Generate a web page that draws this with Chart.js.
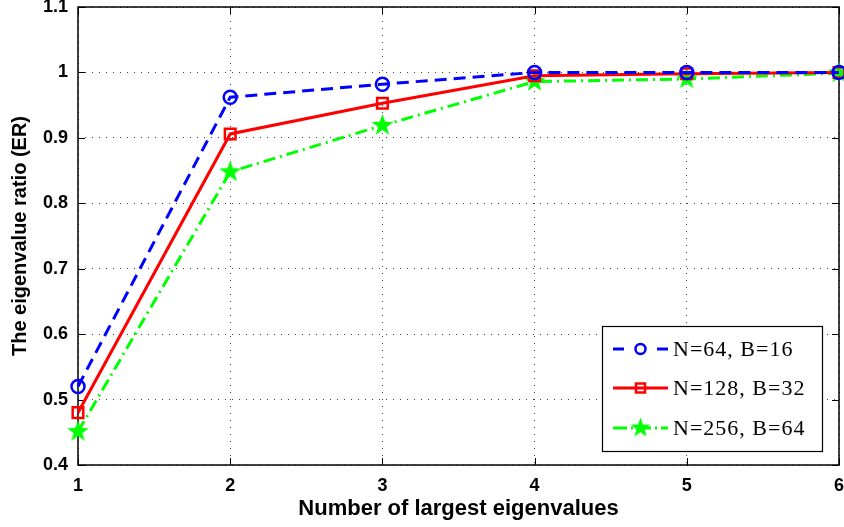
<!DOCTYPE html>
<html>
<head>
<meta charset="utf-8">
<script src="https://cdn.jsdelivr.net/npm/chart.js@4"></script>
<style>
  html, body { margin: 0; padding: 0; background: #fff; }
  #wrap { width: 844px; height: 527px; }
</style>
</head>
<body>
<div id="wrap"><canvas id="er-chart" width="844" height="527"></canvas></div>
<script>
// number of largest eigenvalues kept
const eigenCounts = [1, 2, 3, 4, 5, 6];

// eigenvalue ratio per setting
const erN64 = [0.520, 0.962, 0.982, 1.000, 1.000, 1.000];
const erN128 = [0.480, 0.906, 0.953, 0.995, 0.998, 1.000];
const erN256 = [0.451, 0.848, 0.919, 0.986, 0.990, 0.999];

const seriesLabels = ["N=64, B=16", "N=128, B=32", "N=256, B=64"];

const xTitle = "Number of largest eigenvalues";
const yTitle = "The eigenvalue ratio (ER)";

// filled five-point star, Chart.js "star" is only an asterisk
function makeStar(outer) {
    const c = document.createElement("canvas");
    const s = Math.ceil(outer * 2 + 2);
    c.width = s; c.height = s;
    const g = c.getContext("2d");
    const inner = outer * 0.4;
    g.beginPath();
    for (let i = 0; i < 10; i++) {
        const r = i % 2 === 0 ? outer : inner;
        const a = -Math.PI / 2 + i * Math.PI / 5;
        const px = s / 2 + r * Math.cos(a);
        const py = s / 2 + r * Math.sin(a);
        if (i === 0) g.moveTo(px, py); else g.lineTo(px, py);
    }
    g.closePath();
    g.fillStyle = "#00ff00";
    g.fill();
    return c;
}
const starImg = makeStar(11.5);
const starSmall = makeStar(10.5);

const toPoints = arr => arr.map((v, i) => ({ x: eigenCounts[i], y: v }));

// MATLAB-like frame: box, inward ticks, legend inside the axes
const frame = {
    id: "frame",
    beforeDatasetsDraw(chart) {
        const ctx = chart.ctx;
        const a = chart.chartArea;
        const xs = chart.scales.x, ys = chart.scales.y;
        ctx.save();
        ctx.strokeStyle = "#000";
        ctx.lineWidth = 1;
        ctx.setLineDash([]);
        ctx.beginPath();
        xs.ticks.forEach(t => {
            const px = Math.round(xs.getPixelForValue(t.value)) + 0.5;
            ctx.moveTo(px, a.bottom); ctx.lineTo(px, a.bottom - 7);
            ctx.moveTo(px, a.top); ctx.lineTo(px, a.top + 7);
        });
        ys.ticks.forEach(t => {
            const py = Math.round(ys.getPixelForValue(t.value)) + 0.5;
            ctx.moveTo(a.left, py); ctx.lineTo(a.left + 7, py);
            ctx.moveTo(a.right, py); ctx.lineTo(a.right - 7, py);
        });
        ctx.stroke();
        ctx.lineWidth = 1.5;
        ctx.strokeRect(a.left, a.top, a.right - a.left, a.bottom - a.top);
        ctx.restore();
    },
    afterDraw(chart) {
        const ctx = chart.ctx;
        ctx.save();
        // legend
        const lx = 602, ly = 326, lw = 220, lh = 125;
        ctx.fillStyle = "#fff";
        ctx.fillRect(lx, ly, lw, lh);
        ctx.strokeStyle = "#000";
        ctx.lineWidth = 1.2;
        ctx.strokeRect(lx + 0.5, ly + 0.5, lw, lh);
        const rows = [349, 388, 428];
        chart.data.datasets.forEach((ds, i) => {
            const y = rows[i];
            ctx.strokeStyle = ds.borderColor;
            ctx.lineWidth = 3;
            ctx.setLineDash(i === 2 ? [14, 4, 2, 4] : (ds.borderDash || []));
            ctx.beginPath();
            if (i === 0) {
                ctx.moveTo(613, y); ctx.lineTo(624, y);
                ctx.moveTo(657, y); ctx.lineTo(668, y);
            } else {
                ctx.moveTo(613, y); ctx.lineTo(668, y);
            }
            ctx.stroke();
            ctx.setLineDash([]);
            ctx.lineWidth = 2.5;
            if (i === 0) {
                ctx.beginPath();
                ctx.arc(640.5, y, 5, 0, Math.PI * 2);
                ctx.stroke();
            } else if (i === 1) {
                ctx.strokeRect(636, y - 4.5, 9, 9);
            } else {
                ctx.drawImage(starSmall, 640.5 - starSmall.width / 2, y - starSmall.height / 2);
            }
            ctx.fillStyle = "#000";
            ctx.font = "22px 'Liberation Serif'";
            ctx.letterSpacing = "1px";
            ctx.textBaseline = "middle";
            ctx.textAlign = "left";
            ctx.fillText(ds.label, 673, y + 1);
            ctx.letterSpacing = "0px";
        });
        ctx.restore();
    }
};

new Chart(document.getElementById("er-chart"), {
    type: "line",
    data: {
        datasets: [
            {
                label: seriesLabels[0],
                data: toPoints(erN64),
                borderColor: "#0000ff",
                borderWidth: 3,
                borderDash: [12, 7],
                pointStyle: "circle",
                pointRadius: 6.5,
                pointBorderWidth: 2.5,
                pointBorderColor: "#0000ff",
                pointBackgroundColor: "rgba(0,0,0,0)",
                tension: 0,
                clip: false
            },
            {
                label: seriesLabels[1],
                data: toPoints(erN128),
                borderColor: "#ff0000",
                borderWidth: 3,
                pointStyle: "rect",
                pointRadius: 7.5,
                pointBorderWidth: 2.5,
                pointBorderColor: "#ff0000",
                pointBackgroundColor: "rgba(0,0,0,0)",
                tension: 0,
                clip: false
            },
            {
                label: seriesLabels[2],
                data: toPoints(erN256),
                borderColor: "#00ff00",
                borderWidth: 3,
                borderDash: [12, 5, 2, 5],
                pointStyle: starImg,
                pointRadius: 11,
                tension: 0,
                clip: false
            }
        ]
    },
    options: {
        responsive: false,
        animation: false,
        devicePixelRatio: 1,
        layout: { autoPadding: false, padding: { top: 7, right: 5, left: 0, bottom: 0 } },
        plugins: {
            legend: { display: false },
            tooltip: { enabled: false }
        },
        scales: {
            x: {
                type: "linear",
                min: 1,
                max: 6,
                afterFit: s => { s.height = 62; s.paddingLeft = 0; s.paddingRight = 0; },
                ticks: {
                    stepSize: 1,
                    padding: 10,
                    color: "#000",
                    font: { family: "'Liberation Sans'", size: 18, weight: "bold" }
                },
                grid: { color: "#444", lineWidth: 1, drawTicks: false },
                border: { display: false, dash: [1, 6] },
                title: {
                    display: true,
                    text: xTitle,
                    color: "#000",
                    font: { family: "'Liberation Sans'", size: 22, weight: "bold" },
                    padding: { top: 0, bottom: 5 }
                }
            },
            y: {
                min: 0.4,
                max: 1.1,
                afterFit: s => { s.width = 78; s.paddingTop = 0; s.paddingBottom = 0; },
                ticks: {
                    stepSize: 0.1,
                    padding: 10,
                    color: "#000",
                    font: { family: "'Liberation Sans'", size: 18, weight: "bold" },
                    callback: v => String(+v.toFixed(1))
                },
                grid: { color: "#444", lineWidth: 1, drawTicks: false },
                border: { display: false, dash: [1, 6] },
                title: {
                    display: true,
                    text: yTitle,
                    color: "#000",
                    font: { family: "'Liberation Sans'", size: 20, weight: "bold" },
                    padding: { top: 8, bottom: 0 }
                }
            }
        }
    },
    plugins: [frame]
});
</script>
</body>
</html>
